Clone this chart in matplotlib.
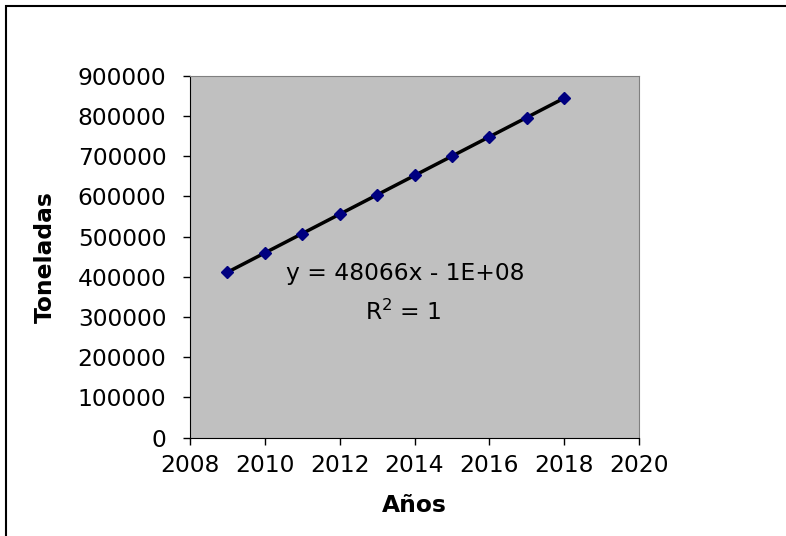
import numpy as np
import matplotlib
matplotlib.use('Agg')
import matplotlib.pyplot as plt
from matplotlib.patches import Rectangle

plt.rcParams['font.family'] = ['DejaVu Sans']
plt.rcParams['mathtext.default'] = 'regular'

years = [2009, 2010, 2011, 2012, 2013, 2014, 2015, 2016, 2017, 2018]
toneladas = [412000, 460000, 507000, 555000, 603000,
             652000, 700000, 748000, 796000, 845000]
eq_label = 'y = 48066x - 1E+08'
r2_label = 'R$^2$ = 1'

fig = plt.figure(figsize=(7.86, 5.36), dpi=100)
ax = fig.add_axes([0.2417, 0.1834, 0.5714, 0.6754])

# outer chart border (runs off right/bottom like the original)
fig.patches.append(Rectangle((6 / 786, -0.05), 1.2, 1 - 6 / 536 + 0.05,
                             transform=fig.transFigure, fill=False,
                             edgecolor='black', linewidth=1.5))

ax.set_facecolor('#c0c0c0')

coef = np.polyfit(years, toneladas, 1)
ax.plot(years, np.polyval(coef, years), color='black', linewidth=2.5, zorder=2)
ax.plot(years, toneladas, linestyle='none', marker='D', markersize=6.5,
        color='#000080', zorder=3)

ax.set_xlim(2008, 2020)
ax.set_ylim(0, 900000)
ax.set_xticks(range(2008, 2021, 2))
ax.set_yticks(range(0, 900001, 100000))

ax.tick_params(direction='out', length=5, width=1, labelsize=16.8)
ax.tick_params(axis='y', pad=12)
ax.tick_params(axis='x', pad=7)
for s in ['top', 'right']:
    ax.spines[s].set_color('#808080')
for s in ['bottom', 'left']:
    ax.spines[s].set_color('black')

ax.set_xlabel('Años', fontsize=16.8, fontweight='bold', labelpad=12)
ax.set_ylabel('Toneladas', fontsize=16.8, fontweight='bold', labelpad=15)

ax.text(2013.75, 407000, eq_label, fontsize=16.8, ha='center', va='center')
ax.text(2013.7, 312000, r2_label, fontsize=16.8, ha='center', va='center')

plt.savefig('out.png', dpi=100)
plt.close(fig)
